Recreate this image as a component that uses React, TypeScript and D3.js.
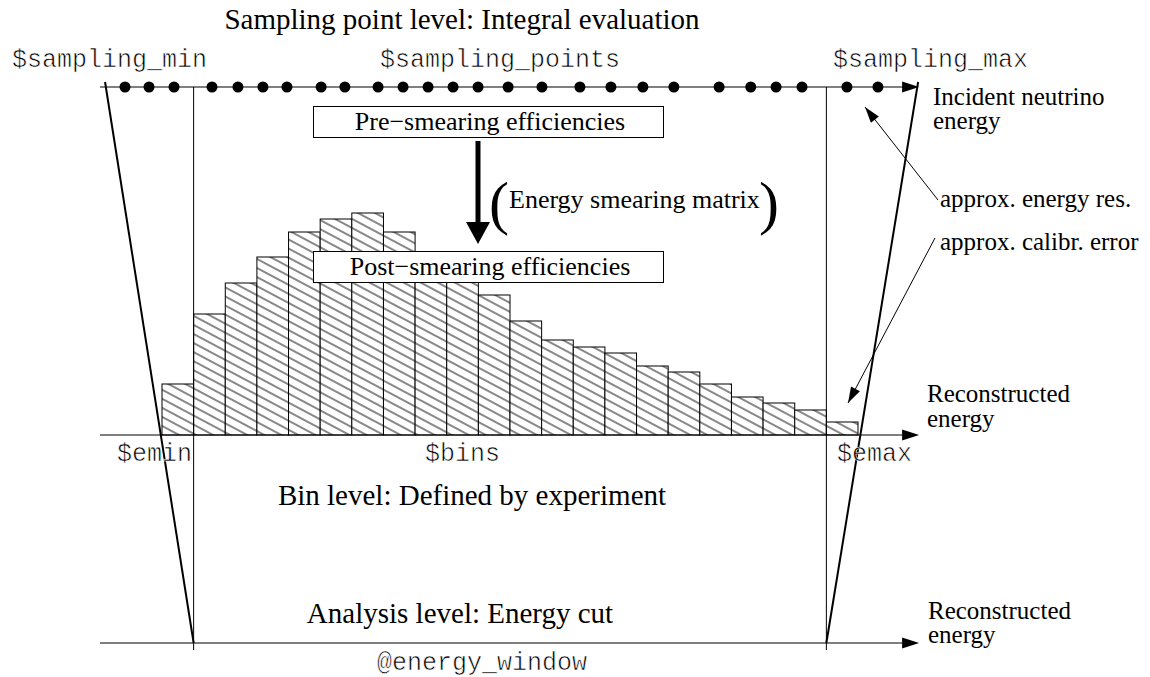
import React, { useEffect, useRef } from 'react';
import * as d3 from 'd3';

// energy in bin units: $emin = 0, $emax = 20, one bin per unit
const binStarts = [-1, 0, 1, 2, 3, 4, 5, 6, 7, 8, 9, 10, 11, 12, 13, 14, 15, 16, 17, 18, 19, 20];
const binCounts = [51, 121, 152, 178, 203, 216, 222, 203, 177, 160, 140, 114, 95, 88, 82, 69, 63, 51, 38, 32, 25, 13];
const samplingPoints = [
  -2.17, -1.41, -0.62, 0.58, 1.4, 2.19, 2.95, 4.03, 4.78, 5.83, 6.62, 7.41, 8.2,
  8.99, 9.94, 11.01, 12.21, 13.19, 14.2, 15.18, 16.61, 17.61, 18.41, 19.23, 20.65, 21.63,
];
const axisDomain = [-2.96, 22.9];
const samplingMin = -2.8;
const samplingMax = 22.9;
const emin = 0;
const emax = 20;

const SERIF = '"Liberation Serif", "Times New Roman", serif';
const MONO = '"Liberation Mono", "Courier New", monospace';

const App = () => {
  const svgRef = useRef<SVGSVGElement>(null);

  useEffect(() => {
    const svg = d3.select(svgRef.current);
    const width = 1150;
    const height = 677;
    svg.selectAll('*').remove();
    svg.attr('width', width).attr('height', height);

    const topY = 87;
    const midY = 435;
    const botY = 643;

    const x = d3.scaleLinear().domain([-1, 21]).range([162, 858]);
    const y = d3.scaleLinear().domain([0, 222]).range([midY, 213]);

    // hatch pattern for the histogram
    const defs = svg.append('defs');
    const pat = defs
      .append('pattern')
      .attr('id', 'hatch')
      .attr('patternUnits', 'userSpaceOnUse')
      .attr('width', 8)
      .attr('height', 8)
      .attr('patternTransform', 'rotate(28)');
    pat.append('rect').attr('width', 8).attr('height', 8).attr('fill', '#fff');
    pat
      .append('line')
      .attr('x1', 0)
      .attr('y1', 4)
      .attr('x2', 8)
      .attr('y2', 4)
      .attr('stroke', '#111')
      .attr('stroke-width', 1);

    const arrowHead = (x1, y1, x2, y2, len, half) => {
      const a = Math.atan2(y2 - y1, x2 - x1);
      const bx = x2 - len * Math.cos(a);
      const by = y2 - len * Math.sin(a);
      const px = -Math.sin(a) * half;
      const py = Math.cos(a) * half;
      svg
        .append('path')
        .attr('d', `M${x2},${y2}L${bx + px},${by + py}L${bx - px},${by - py}Z`)
        .attr('fill', '#000');
    };

    const line = (x1, y1, x2, y2, w = 1) =>
      svg
        .append('line')
        .attr('x1', x1)
        .attr('y1', y1)
        .attr('x2', x2)
        .attr('y2', y2)
        .attr('stroke', '#000')
        .attr('stroke-width', w);

    const text = (t, tx, ty, size, family, anchor = 'start') => {
      const el = svg
        .append('text')
        .attr('x', tx)
        .attr('y', ty)
        .attr('font-size', size)
        .attr('font-family', family)
        .attr('text-anchor', anchor)
        .attr('fill', '#000')
        .text(t);
      // thin the mono glyphs a bit so they read like Courier
      if (family === MONO) el.attr('stroke', '#fff').attr('stroke-width', 0.6);
      return el;
    };

    // histogram bars
    svg
      .append('g')
      .selectAll('rect')
      .data(binCounts)
      .join('rect')
      .attr('x', (d, i) => x(binStarts[i]))
      .attr('y', (d) => y(d))
      .attr('width', (d, i) => x(binStarts[i] + 1) - x(binStarts[i]))
      .attr('height', (d) => y(0) - y(d))
      .attr('fill', 'url(#hatch)')
      .attr('stroke', '#000')
      .attr('stroke-width', 1);

    // three energy axes
    [topY, midY, botY].forEach((yy) => {
      line(x(axisDomain[0]), yy, x(axisDomain[1]) - 10, yy, 1.2);
      arrowHead(x(axisDomain[0]), yy, x(axisDomain[1]) + 1, yy, 17, 5.5);
    });

    // energy window verticals
    line(x(emin), topY, x(emin), botY + 7, 1);
    line(x(emax), topY, x(emax), botY + 7, 1);

    // slanted mapping lines
    line(x(samplingMin), topY - 5, x(emin), botY, 2);
    line(x(samplingMax), topY - 5, x(emax), botY, 2);

    // sampling points
    svg
      .append('g')
      .selectAll('circle')
      .data(samplingPoints)
      .join('circle')
      .attr('cx', (d) => x(d))
      .attr('cy', topY)
      .attr('r', 5.5)
      .attr('fill', '#000');

    // boxes
    const box = (label, by) => {
      svg
        .append('rect')
        .attr('x', 313.5)
        .attr('y', by)
        .attr('width', 350)
        .attr('height', 31)
        .attr('fill', '#fff')
        .attr('stroke', '#000')
        .attr('stroke-width', 1);
      text(label, 490, by + 23, 26, SERIF, 'middle');
    };
    box('Pre\u2212smearing efficiencies', 106.5);

    // thick arrow
    line(478, 141, 478, 226, 5);
    arrowHead(478, 141, 478, 244, 22, 12);
    text('(', 489, 223, 60, SERIF);
    text('Energy smearing matrix', 509, 208, 26, SERIF);
    text(')', 759, 223, 60, SERIF);

    box('Post\u2212smearing efficiencies', 251.5);

    // annotation arrows
    line(938, 200, 865, 107, 1);
    arrowHead(938, 200, 865, 107, 16, 5);
    line(935, 238, 848, 403, 1);
    arrowHead(935, 238, 848, 403, 16, 5);

    // titles
    text('Sampling point level: Integral evaluation', 462, 29, 29, SERIF, 'middle');
    text('Bin level: Defined by experiment', 472, 505, 29, SERIF, 'middle');
    text('Analysis level: Energy cut', 460, 623, 29, SERIF, 'middle');

    // variable names
    text('$sampling_min', 12, 67, 25, MONO);
    text('$sampling_points', 380, 67, 25, MONO);
    text('$sampling_max', 833, 67, 25, MONO);
    text('$emin', 117, 461, 25, MONO);
    text('$bins', 425, 461, 25, MONO);
    text('$emax', 837, 461, 25, MONO);
    text('@energy_window', 377, 670, 25, MONO);

    // right-hand labels
    text('Incident neutrino', 933, 105, 25, SERIF);
    text('energy', 933, 129, 25, SERIF);
    text('approx. energy res.', 940, 207, 25, SERIF);
    text('approx. calibr. error', 940, 250, 25, SERIF);
    text('Reconstructed', 927, 402, 25, SERIF);
    text('energy', 927, 427, 25, SERIF);
    text('Reconstructed', 928, 619, 25, SERIF);
    text('energy', 928, 643, 25, SERIF);
  }, []);

  return (
    <div style={{ position: 'absolute', left: 0, top: 0, background: '#fff' }}>
      <svg ref={svgRef} />
    </div>
  );
};

export default App;
